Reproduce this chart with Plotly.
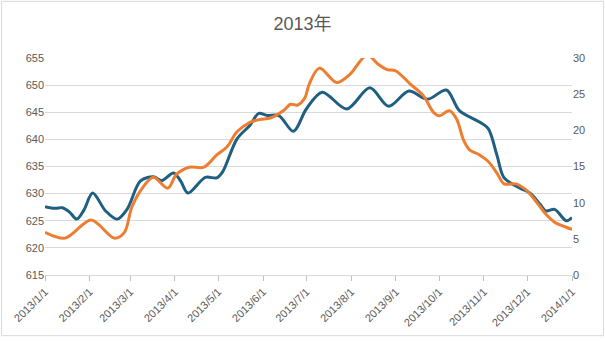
import plotly.graph_objects as go

title_text = "2013年"

blue_dates = ["2013-01-01", "2013-01-08", "2013-01-13", "2013-01-18", "2013-01-23", "2013-01-28", "2013-02-03",
              "2013-02-12", "2013-02-20", "2013-02-27", "2013-03-08", "2013-03-17", "2013-03-23",
              "2013-03-31", "2013-04-05", "2013-04-10", "2013-04-22", "2013-04-30", "2013-05-04",
              "2013-05-14", "2013-05-23", "2013-05-29", "2013-06-04", "2013-06-12", "2013-06-22",
              "2013-07-01", "2013-07-12", "2013-07-29", "2013-08-14", "2013-08-27", "2013-09-10",
              "2013-09-23", "2013-10-06", "2013-10-15", "2013-10-29", "2013-11-04", "2013-11-10",
              "2013-11-15", "2013-11-26", "2013-12-03", "2013-12-10", "2013-12-14", "2013-12-20",
              "2013-12-28", "2014-01-01"]
blue_values = [627.6, 627.3, 627.4, 626.6, 625.3, 627.0, 630.1,
               626.8, 625.3, 627.2, 632.3, 633.1, 632.4,
               633.8, 632.3, 630.1, 633.0, 632.9, 634.0,
               640.1, 642.6, 644.8, 644.4, 644.4, 641.5,
               645.6, 648.7, 645.6, 649.5, 646.1, 648.9,
               647.4, 649.1, 645.3, 643.2, 642.0, 637.1,
               632.9, 631.0, 630.1, 628.0, 626.8, 627.1,
               625.0, 625.6]

orange_dates = ["2013-01-01", "2013-01-15", "2013-02-02", "2013-02-18", "2013-02-25", "2013-03-02",
                "2013-03-08", "2013-03-17", "2013-03-27", "2013-04-02", "2013-04-11", "2013-04-21",
                "2013-04-30", "2013-05-07", "2013-05-14", "2013-05-23", "2013-05-30", "2013-06-06",
                "2013-06-15", "2013-06-20", "2013-06-25", "2013-06-30", "2013-07-03", "2013-07-10",
                "2013-07-22", "2013-07-31", "2013-08-12", "2013-08-20", "2013-08-26", "2013-09-01",
                "2013-09-11", "2013-09-20", "2013-09-27", "2013-10-01", "2013-10-08", "2013-10-13",
                "2013-10-18", "2013-10-22", "2013-10-29", "2013-11-04", "2013-11-10", "2013-11-15",
                "2013-11-23", "2013-11-30", "2013-12-07", "2013-12-14", "2013-12-20", "2013-12-28",
                "2014-01-01"]
orange_values = [5.9, 5.1, 7.6, 5.1, 5.9, 9.3,
                 11.6, 13.5, 12.0, 13.9, 14.9, 14.9,
                 16.6, 17.7, 19.8, 21.1, 21.5, 21.7,
                 22.7, 23.6, 23.5, 24.5, 26.4, 28.6,
                 26.6, 27.7, 30.4, 29.1, 28.4, 28.2,
                 26.4, 24.8, 22.5, 22.0, 22.7, 21.6,
                 18.6, 17.3, 16.6, 15.7, 14.1, 12.6,
                 12.6, 11.8, 10.2, 8.4, 7.3, 6.6,
                 6.3]

tick_dates = ["2013-01-01", "2013-02-01", "2013-03-01", "2013-04-01", "2013-05-01", "2013-06-01",
              "2013-07-01", "2013-08-01", "2013-09-01", "2013-10-01", "2013-11-01", "2013-12-01",
              "2014-01-01"]
tick_labels = ["2013/1/1", "2013/2/1", "2013/3/1", "2013/4/1", "2013/5/1", "2013/6/1",
               "2013/7/1", "2013/8/1", "2013/9/1", "2013/10/1", "2013/11/1", "2013/12/1",
               "2014/1/1"]

FONT = "Liberation Sans, Arial, Noto Sans CJK SC, sans-serif"
TXT = "#595959"
GRID = "#d9d9d9"

fig = go.Figure()
fig.add_trace(go.Scatter(x=blue_dates, y=blue_values, mode="lines",
                         line=dict(color="#1f5f82", width=3, shape="spline", smoothing=0.9),
                         showlegend=False, yaxis="y"))
fig.add_trace(go.Scatter(x=orange_dates, y=orange_values, mode="lines",
                         line=dict(color="#ed7d31", width=3, shape="spline", smoothing=0.9),
                         showlegend=False, yaxis="y2"))

W, H = 605, 341
ml, mr, mt, mb = 44, 33, 58, 63
pw, ph = W - ml - mr, H - mt - mb

fig.update_layout(
    width=W, height=H,
    margin=dict(l=ml, r=mr, t=mt, b=mb, pad=0),
    paper_bgcolor="white", plot_bgcolor="white",
    font=dict(family=FONT, size=11, color=TXT),
    title=dict(text=title_text, x=0.5, xanchor="center", y=1 - 24 / H, yanchor="middle",
               font=dict(family=FONT, size=18, color=TXT)),
    xaxis=dict(type="date", range=["2013-01-01", "2014-01-01"],
               tickmode="array", tickvals=tick_dates, ticktext=tick_labels,
               tickangle=-45, ticks="outside", ticklen=5, tickcolor="#bfbfbf",
               showline=True, linecolor=GRID, linewidth=1, showgrid=False,
               tickfont=dict(size=11, color=TXT)),
    yaxis=dict(range=[615, 655], dtick=5, tick0=615, showgrid=True, gridcolor=GRID,
               gridwidth=1, zeroline=False, showline=False, ticks="",
               tickfont=dict(size=11, color=TXT)),
    yaxis2=dict(range=[0, 30], dtick=5, tick0=0, overlaying="y", side="right",
                showgrid=False, zeroline=False, showline=False, ticks="",
                tickfont=dict(size=11, color=TXT)),
    shapes=[dict(type="rect", xref="paper", yref="paper",
                 x0=(0.5 - ml) / pw, x1=(W - 1.5 - ml) / pw,
                 y0=(H - mb - (H - 1.5)) / ph, y1=(H - mb - 0.5) / ph,
                 line=dict(color=GRID, width=1), fillcolor="rgba(0,0,0,0)", layer="below")],
)

fig.write_html("out.html")
